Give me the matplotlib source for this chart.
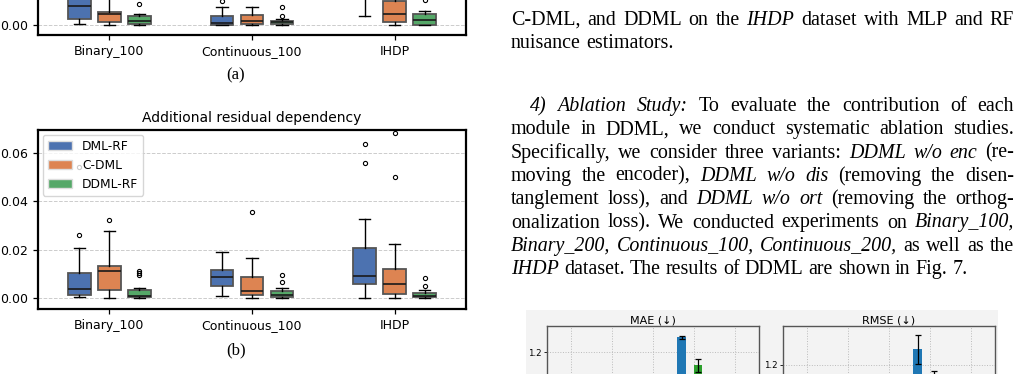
import numpy as np
import matplotlib
matplotlib.use('Agg')
import matplotlib.pyplot as plt
from matplotlib.patches import Patch, Rectangle
from matplotlib.ticker import FormatStrFormatter

W, H = 1019, 374

# Datos de los diagramas de caja
cats = ['Binary_100', 'Continuous_100', 'IHDP']
methods = ['DML-RF', 'C-DML', 'DDML-RF']
box_colors = ['#4C72B0', '#DD8452', '#55A868']

# panel (b): Additional residual dependency
b_med = {'DML-RF': [0.0036, 0.0086, 0.0091], 'C-DML': [0.0112, 0.0030, 0.0057], 'DDML-RF': [0.0008, 0.0011, 0.0009]}
b_q1 = {'DML-RF': [0.0011, 0.0048, 0.0057], 'C-DML': [0.0033, 0.0014, 0.0018], 'DDML-RF': [0.0002, 0.0003, 0.0003]}
b_q3 = {'DML-RF': [0.0102, 0.0117, 0.0208], 'C-DML': [0.0130, 0.0086, 0.0121], 'DDML-RF': [0.0033, 0.0029, 0.0019]}
b_lo = {'DML-RF': [0.0004, 0.0007, 0.0], 'C-DML': [0.0, 0.0, 0.0], 'DDML-RF': [0.0, 0.0, 0.0]}
b_hi = {'DML-RF': [0.0208, 0.0189, 0.0328], 'C-DML': [0.0275, 0.0167, 0.0224], 'DDML-RF': [0.0040, 0.0043, 0.0033]}
b_fliers = {'DML-RF': [[0.026, 0.054], [], [0.0635, 0.0557]],
            'C-DML': [[0.0323], [0.0356], [0.0684, 0.0499]],
            'DDML-RF': [[0.0112, 0.0104, 0.0096], [0.0095, 0.0065], [0.0084, 0.0051]]}

# panel (a): solo se ve la parte inferior
a_med = {'DML-RF': [0.0080, 0.0010, 0.0200], 'C-DML': [0.0048, 0.0018, 0.0048], 'DDML-RF': [0.0018, 0.0012, 0.0021]}
a_q1 = {'DML-RF': [0.0025, 0.0002, 0.0130], 'C-DML': [0.0014, 0.0005, 0.0014], 'DDML-RF': [0.0003, 0.0006, 0.0002]}
a_q3 = {'DML-RF': [0.0160, 0.0037, 0.0300], 'C-DML': [0.0055, 0.0040, 0.0100], 'DDML-RF': [0.0037, 0.0018, 0.0046]}
a_lo = {'DML-RF': [0.0004, 0.0, 0.0039], 'C-DML': [0.0001, 0.0, 0.0], 'DDML-RF': [0.0, 0.0002, 0.0]}
a_hi = {'DML-RF': [0.028, 0.0073, 0.045], 'C-DML': [0.013, 0.0073, 0.018], 'DDML-RF': [0.0046, 0.0024, 0.0059]}
a_fliers = {'DML-RF': [[], [0.0100], []],
            'C-DML': [[], [], []],
            'DDML-RF': [[0.0087], [0.0073, 0.0037], [0.0104]]}

# Datos del estudio de ablacion (barras)
datasets = ['Binary_100', 'Binary_200', 'Continuous_100', 'Continuous_200', 'IHDP']
variants = ['DDML w/o enc', 'DDML w/o dis', 'DDML w/o ort', 'DDML']
bar_colors = ['#1f77b4', '#ff7f0e', '#2ca02c', '#d62728']
mae = {'DDML w/o enc': [0.62, 0.71, 0.85, 1.26, 0.95],
       'DDML w/o dis': [0.58, 0.66, 0.80, 1.05, 0.90],
       'DDML w/o ort': [0.60, 0.69, 0.83, 1.148, 0.92],
       'DDML': [0.52, 0.60, 0.74, 0.98, 0.85]}
mae_err = {'DDML w/o enc': [0.02, 0.02, 0.03, 0.006, 0.03],
           'DDML w/o dis': [0.02, 0.02, 0.03, 0.03, 0.03],
           'DDML w/o ort': [0.02, 0.02, 0.03, 0.026, 0.03],
           'DDML': [0.02, 0.02, 0.02, 0.03, 0.02]}
rmse = {'DDML w/o enc': [0.75, 0.85, 1.00, 1.263, 1.10],
        'DDML w/o dis': [0.70, 0.80, 0.95, 1.08, 1.05],
        'DDML w/o ort': [0.72, 0.83, 0.97, 1.14, 1.07],
        'DDML': [0.65, 0.75, 0.90, 1.05, 1.00]}
rmse_err = {'DDML w/o enc': [0.03, 0.03, 0.03, 0.058, 0.03],
            'DDML w/o dis': [0.03, 0.03, 0.03, 0.03, 0.03],
            'DDML w/o ort': [0.03, 0.03, 0.03, 0.035, 0.03],
            'DDML': [0.03, 0.03, 0.03, 0.03, 0.03]}

# Texto del articulo (*...* = cursiva)
text_top = ["C-DML, and DDML on the *IHDP* dataset with MLP and RF",
            "nuisance estimators."]
text_par = ["*4) Ablation Study:* To evaluate the contribution of each",
            "module in DDML, we conduct systematic ablation studies.",
            "Specifically, we consider three variants: *DDML w/o enc* (re-",
            "moving the encoder), *DDML w/o dis* (removing the disen-",
            "tanglement loss), and *DDML w/o ort* (removing the orthog-",
            "onalization loss). We conducted experiments on *Binary_100,*",
            "*Binary_200, Continuous_100, Continuous_200,* as well as the",
            "*IHDP* dataset. The results of DDML are shown in Fig. 7."]

fig = plt.figure(figsize=(W / 100, H / 100), dpi=100)
fig.patch.set_facecolor('white')


def box_panel(ax, med, q1, q3, lo, hi, fliers):
    offsets = [-0.21, 0.0, 0.21]
    for m, (meth, col) in enumerate(zip(methods, box_colors)):
        stats = []
        for i in range(len(cats)):
            stats.append(dict(med=med[meth][i], q1=q1[meth][i], q3=q3[meth][i],
                              whislo=lo[meth][i], whishi=hi[meth][i], fliers=fliers[meth][i]))
        ax.bxp(stats, positions=np.arange(len(cats)) + offsets[m], widths=0.16,
               patch_artist=True, manage_ticks=False,
               boxprops=dict(facecolor=col, edgecolor='#555555', linewidth=1.3),
               medianprops=dict(color='#1a1a1a', linewidth=1.2),
               whiskerprops=dict(color='black', linewidth=1.0),
               capprops=dict(color='black', linewidth=1.0),
               flierprops=dict(marker='o', markersize=3, markerfacecolor='none',
                               markeredgecolor='black', markeredgewidth=0.8))
    ax.set_xlim(-0.5, 2.5)
    ax.set_xticks(np.arange(len(cats)))
    ax.set_xticklabels(cats)
    ax.set_yticks([0.0, 0.02, 0.04, 0.06])
    ax.yaxis.set_major_formatter(FormatStrFormatter('%.2f'))
    ax.yaxis.grid(True, linestyle='--', color='#cccccc', linewidth=0.7)
    ax.set_axisbelow(True)
    ax.tick_params(labelsize=9, length=3.5, width=0.9)
    for s in ax.spines.values():
        s.set_linewidth(1.6)
        s.set_color('black')


ax_a = fig.add_axes([38 / W, 1 - 35 / H, 428 / W, 179 / H])
box_panel(ax_a, a_med, a_q1, a_q3, a_lo, a_hi, a_fliers)
ax_a.set_ylim(-0.0041, 0.070)

ax_b = fig.add_axes([38 / W, 1 - 309 / H, 428 / W, 179 / H])
box_panel(ax_b, b_med, b_q1, b_q3, b_lo, b_hi, b_fliers)
ax_b.set_ylim(-0.0046, 0.0695)
ax_b.set_title('Additional residual dependency', fontsize=10)
handles = [Patch(facecolor=c, edgecolor='#dddddd', label=m) for m, c in zip(methods, box_colors)]
ax_b.legend(handles=handles, loc='upper left', fontsize=8.8, handlelength=2.0,
            framealpha=0.8, edgecolor='#cccccc', borderaxespad=0.4)

serif = 'Liberation Serif'
fig.text(236 / W, 1 - 75 / H, '(a)', ha='center', va='center', family=serif, fontsize=12)
fig.text(236 / W, 1 - 350 / H, '(b)', ha='center', va='center', family=serif, fontsize=12)

# Panel gris de la figura de ablacion
fig.patches.append(Rectangle((526 / W, -0.1), 472 / W, 0.1 + 64 / H, transform=fig.transFigure,
                             facecolor='#f3f3f3', edgecolor='none', zorder=-10))


def bar_panel(ax, vals, errs, title, top):
    x = np.arange(len(datasets))
    for k, (v, col) in enumerate(zip(variants, bar_colors)):
        ax.bar(x + (k - 1.5) * 0.2, vals[v], width=0.2, color=col, yerr=errs[v], capsize=2,
               error_kw=dict(elinewidth=0.9, ecolor='black', capthick=0.9), zorder=3)
    ax.set_facecolor('#f3f3f3')
    ax.set_xlim(-0.6, 4.6)
    ax.set_ylim(top - 0.8, top)
    ax.set_xticks(x)
    ax.set_xticklabels(datasets, rotation=30, ha='right')
    ax.set_yticks([0.6, 0.8, 1.0, 1.2])
    ax.set_yticklabels(['0.6', '0.8', '1.0', '1.2'])
    ax.grid(True, linestyle=':', color='#bbbbbb', linewidth=0.7)
    ax.set_axisbelow(True)
    ax.tick_params(labelsize=6.2, length=2, width=0.6, pad=1.5)
    for s in ax.spines.values():
        s.set_color('#555555')
        s.set_linewidth(1.0)
    ax.set_title(title, fontsize=8, pad=2)


ax_m = fig.add_axes([547 / W, 1 - 526 / H, 212 / W, 200 / H])
bar_panel(ax_m, mae, mae_err, 'MAE (\u2193)', 1.304)
ax_r = fig.add_axes([783 / W, 1 - 526 / H, 212 / W, 200 / H])
bar_panel(ax_r, rmse, rmse_err, 'RMSE (\u2193)', 1.355)

# Texto justificado
renderer = fig.canvas.get_renderer()
FS = 14.4


def parse(line):
    words = []
    ital = False
    for w in line.split(' '):
        pieces = []
        for j, part in enumerate(w.split('*')):
            if j > 0:
                ital = not ital
            if part:
                pieces.append((part, ital))
        words.append(pieces)
    return words


def text_width(s, ital):
    t = fig.text(0, 0, s, fontsize=FS, family=serif, style='italic' if ital else 'normal')
    w = t.get_window_extent(renderer).width
    t.remove()
    return w


space_w = text_width('a a', False) - text_width('aa', False)


def draw_line(line, x0, x1, ycen, justify=True):
    words = parse(line)
    widths = [[text_width(p, it) for p, it in w] for w in words]
    total = sum(sum(w) for w in widths)
    gap = (x1 - x0 - total) / (len(words) - 1) if justify and len(words) > 1 else space_w
    x = x0
    ybase = ycen + 6
    for w, ws in zip(words, widths):
        for (p, it), pw in zip(w, ws):
            fig.text(x / W, 1 - ybase / H, p, fontsize=FS, family=serif,
                     style='italic' if it else 'normal', va='baseline', ha='left')
            x += pw
        x += gap


draw_line(text_top[0], 511, 1014, 19)
draw_line(text_top[1], 511, 1014, 41.5, justify=False)
for k, line in enumerate(text_par):
    x0 = 530 if k == 0 else 511
    draw_line(line, x0, 1014, 105 + 23.3 * k, justify=(k < len(text_par) - 1))

fig.savefig('out.png', dpi=100)
